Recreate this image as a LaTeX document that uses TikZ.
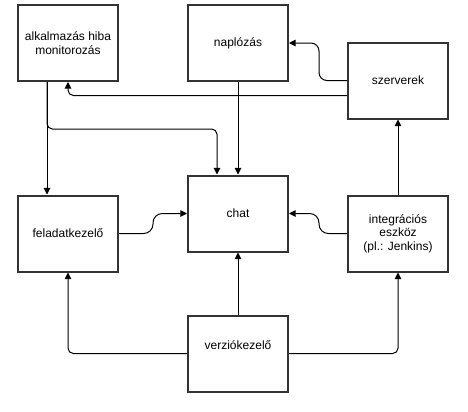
\documentclass[tikz,border=0pt]{standalone}
\usepackage{fontspec}
\setmainfont{Liberation Sans}
\usetikzlibrary{arrows.meta}

\begin{document}
\begin{tikzpicture}
        [x=0.75pt,y=-0.75pt,
          every node/.style={rectangle,draw=black!80,line width=1.5pt,minimum width=75pt,minimum height=57pt,align=center,font=\fontsize{9}{10}\selectfont},
          conn/.style={draw,-{Triangle[length=5pt,width=5pt]},line width=0.75pt,rounded corners=4pt}]
        \useasboundingbox (0,0) rectangle (468,411);
        \node (alk) at (68,43) {alkalmazás hiba\\monitorozás};
        \node (napl) at (238,43) {naplózás};
        \node (szer) at (398,80.5) {szerverek};
        \node (chat) at (238,213.5) {chat};
        \node (fel) at (68,233.5) {feladatkezelő};
        \node (int) at (398,233.5) {integrációs\\eszköz\\(pl.: Jenkins)};
        \node[text depth=12pt] (ver) at (238,353.5) {verziókezelő};
        \coordinate (a1) at ([xshift=-15.75pt]alk.south);
        \coordinate (c1) at ([xshift=-15.75pt]chat.north);
        \coordinate (s1) at ([yshift=-11.25pt]szer.west);
        \draw[conn] (a1) -- (a1 |- fel.north);
        \draw[conn] (a1) -- ++(0,47) -| (c1);
        \draw[conn,rounded corners=6pt] (szer.west) -- ++(-28,0) |- (napl.east);
        \draw[conn] (s1) -| (alk.south);
        \draw[conn,rounded corners=7pt] (fel.east) -- ++(34,0) |- (chat.west);
        \draw[conn,rounded corners=7pt] (int.west) -- ++(-28,0) |- (chat.east);
        \draw[conn] (ver.west) -| (fel.south);
        \draw[conn] (ver.east) -| (int.south);
        \foreach \from/\to in {napl/chat,ver/chat,int/szer}
        \draw[conn] (\from) -- (\to);
      \end{tikzpicture}
\end{document}
